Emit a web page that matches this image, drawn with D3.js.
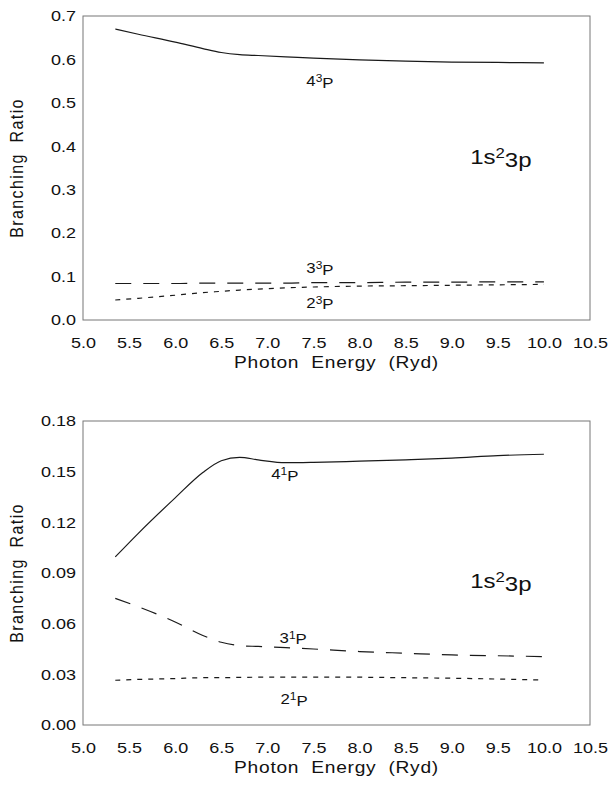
<!DOCTYPE html>
<html>
<head>
<meta charset="utf-8">
<script src="https://cdn.jsdelivr.net/npm/d3@7"></script>
<style>
  body { margin: 0; background: #fff; }
  text { font-family: "Liberation Sans", Arial, sans-serif; fill: #111; }
</style>
</head>
<body>
<div class="chart"></div>
<script>
// shared photon energy grid (Ryd)
var energy = [5.35, 5.6, 6.0, 6.3, 6.5, 6.7, 6.9, 7.2, 7.5, 8.0, 8.5, 9.0, 9.5, 10.0];

// triplet panel
var p4_3 = [0.670, 0.658, 0.640, 0.625, 0.616, 0.611, 0.609, 0.606, 0.603, 0.599, 0.596, 0.594, 0.593, 0.592];
var p3_3 = [0.084, 0.084, 0.084, 0.085, 0.085, 0.085, 0.085, 0.085, 0.086, 0.086, 0.087, 0.087, 0.088, 0.088];
var p2_3 = [0.046, 0.050, 0.057, 0.063, 0.066, 0.069, 0.071, 0.074, 0.076, 0.078, 0.079, 0.080, 0.081, 0.082];

// singlet panel
var p4_1 = [0.0995, 0.1135, 0.1345, 0.1495, 0.1565, 0.1585, 0.1570, 0.1553, 0.1555, 0.1562, 0.157, 0.158, 0.1595, 0.1603];
var p3_1 = [0.075, 0.070, 0.061, 0.053, 0.049, 0.047, 0.0465, 0.0458, 0.045, 0.0435, 0.0425, 0.0415, 0.041, 0.0405];
var p2_1 = [0.0265, 0.027, 0.0275, 0.028, 0.028, 0.0282, 0.0283, 0.0284, 0.0284, 0.0283, 0.028, 0.0277, 0.0272, 0.0266];

// tick labels
var xTicks = [5.0, 5.5, 6.0, 6.5, 7.0, 7.5, 8.0, 8.5, 9.0, 9.5, 10.0, 10.5];
var yTicksTop = [0.0, 0.1, 0.2, 0.3, 0.4, 0.5, 0.6, 0.7];
var yTicksBottom = [0.00, 0.03, 0.06, 0.09, 0.12, 0.15, 0.18];

var svgWidth = 611, svgHeight = 788;
var stretch = 1.2; // the scanned figure is wider than tall

var svg = d3.select(".chart")
  .append("svg")
  .attr("width", svgWidth)
  .attr("height", svgHeight);

var width = 507, height = 304;

function drawPanel(top, yMax, yTicks, yFmt, series, labels, noteY) {
  var g = svg.append("g").attr("transform", `translate(83, ${top})`);

  var x = d3.scaleLinear().domain([5.0, 10.5]).range([0, width]);
  var y = d3.scaleLinear().domain([0, yMax]).range([height, 0]);

  // frame
  g.append("rect")
    .attr("width", width)
    .attr("height", height)
    .attr("fill", "none")
    .attr("stroke", "#777")
    .attr("stroke-width", 1);

  // axes, labels only
  var bottomAxis = d3.axisBottom(x).tickValues(xTicks).tickSize(0).tickPadding(17)
    .tickFormat(d3.format(".1f"));
  var leftAxis = d3.axisLeft(y).tickValues(yTicks).tickSize(0).tickPadding(7)
    .tickFormat(d3.format(yFmt));

  var xa = g.append("g").attr("transform", `translate(0, ${height})`).call(bottomAxis);
  var ya = g.append("g").call(leftAxis);
  [xa, ya].forEach(function (a) {
    a.select(".domain").remove();
    a.selectAll("text").style("font-size", "15px").attr("fill", "#111");
  });
  xa.selectAll("text").attr("transform", `scale(${stretch},1)`);
  ya.selectAll("text").attr("transform", `scale(${stretch},1)`).attr("x", -7 / stretch);

  // curves
  var line = d3.line()
    .x(d => x(d[0]))
    .y(d => y(d[1]))
    .curve(d3.curveMonotoneX);

  series.forEach(function (s) {
    g.append("path")
      .datum(energy.map((e, i) => [e, s.values[i]]))
      .attr("fill", "none")
      .attr("stroke", "#1a1a1a")
      .attr("stroke-width", 1.2)
      .attr("stroke-dasharray", s.dash)
      .attr("d", line);
  });

  // level labels
  labels.forEach(function (l) {
    var t = g.append("text")
      .attr("transform", `translate(${x(l.e)}, ${y(l.v)}) scale(${stretch},1)`)
      .attr("text-anchor", "middle")
      .style("font-size", "14px");
    t.append("tspan").text(l.n);
    t.append("tspan").attr("dy", "-0.4em").style("font-size", "10px").text(l.s);
    t.append("tspan").attr("dy", "0.4em").text("P");
  });

  // configuration note
  var note = g.append("text")
    .attr("transform", `translate(${x(9.2)}, ${noteY}) scale(${stretch},1)`)
    .style("font-size", "20px");
  note.append("tspan").text("1s");
  note.append("tspan").attr("dy", "-0.45em").style("font-size", "14px").text("2");
  note.append("tspan").attr("dy", "0.45em").text("3p");

  // axis titles
  g.append("text")
    .attr("transform", `translate(${width / 2}, ${height + 48}) scale(${stretch},1)`)
    .attr("text-anchor", "middle")
    .style("font-size", "16px")
    .style("letter-spacing", "0.6px")
    .style("word-spacing", "5px")
    .text("Photon Energy (Ryd)");

  g.append("text")
    .attr("transform", `translate(-60, ${height / 2}) scale(${stretch},1) rotate(-90)`)
    .attr("text-anchor", "middle")
    .style("font-size", "16px")
    .style("letter-spacing", "1.4px")
    .style("word-spacing", "5px")
    .text("Branching Ratio");
}

drawPanel(16, 0.7, yTicksTop, ".1f",
  [
    { values: p4_3, dash: null },
    { values: p3_3, dash: "16,12" },
    { values: p2_3, dash: "5,6" }
  ],
  [
    { n: "4", s: "3", e: 7.57, v: 0.539 },
    { n: "3", s: "3", e: 7.57, v: 0.108 },
    { n: "2", s: "3", e: 7.57, v: 0.028 }
  ], 148);

drawPanel(421, 0.18, yTicksBottom, ".2f",
  [
    { values: p4_1, dash: null },
    { values: p3_1, dash: "16,12" },
    { values: p2_1, dash: "5,6" }
  ],
  [
    { n: "4", s: "1", e: 7.19, v: 0.1455 },
    { n: "3", s: "1", e: 7.28, v: 0.0487 },
    { n: "2", s: "1", e: 7.29, v: 0.0125 }
  ], 167);
</script>
</body>
</html>
